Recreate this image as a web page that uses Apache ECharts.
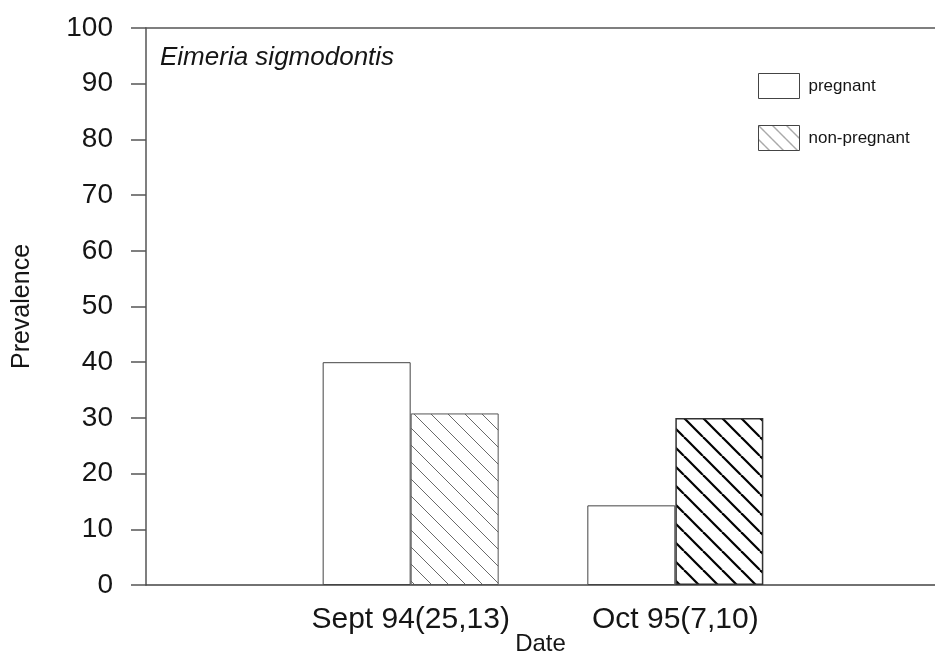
<!DOCTYPE html>
<html>
<head>
<meta charset="utf-8">
<script src="https://cdn.jsdelivr.net/npm/echarts@6/dist/echarts.min.js"></script>
<style>
html,body{margin:0;padding:0;background:#fff;}
#chart{width:935px;height:660px;}
</style>
</head>
<body>
<div id="chart"></div>
<script>
// ---- data ----
const categories = ['Sept 94(25,13)', 'Oct 95(7,10)'];
const pregnant = [40, 14.3];
const nonPregnant = [30.8, 30];
const yTicks = [0, 10, 20, 30, 40, 50, 60, 70, 80, 90, 100];
const seriesNames = ['pregnant', 'non-pregnant'];
const titleText = 'Eimeria sigmodontis';
const xName = 'Date';
const yName = 'Prevalence';

// ---- hatch patterns (style only) ----
function hatch(step, color, width) {
  const c = document.createElement('canvas');
  c.width = step; c.height = step;
  const g = c.getContext('2d');
  g.fillStyle = '#fff';
  g.fillRect(0, 0, step, step);
  g.strokeStyle = color;
  g.lineWidth = width;
  for (const x0 of [-step, 0, step]) {
    g.beginPath();
    g.moveTo(x0, 0);
    g.lineTo(x0 + step, step);
    g.stroke();
  }
  return { image: c, repeat: 'repeat' };
}
const lightHatch = hatch(17, '#6a6a6a', 1);
const heavyHatch = hatch(19, '#000', 2.2);
const legendHatch = hatch(14, '#555', 1);

const axisCats = [''].concat(categories, ['']);
const pad = arr => [null].concat(arr, [null]);

const nonPregData = pad(nonPregnant).map((v, i) => {
  if (v === null) return null;
  if (i === 1) return { value: v, itemStyle: { color: lightHatch, borderColor: '#555', borderWidth: 1 } };
  return { value: v, itemStyle: { color: heavyHatch, borderColor: '#333', borderWidth: 1.5 } };
});

const chart = echarts.init(document.getElementById('chart'), null, { renderer: 'canvas' });
const txt = '#151515';
chart.setOption({
  backgroundColor: '#fff',
  animation: false,
  title: {
    text: titleText,
    left: 160, top: 45, padding: 0,
    textStyle: { fontFamily: 'Liberation Sans', fontStyle: 'italic', fontWeight: 'normal', fontSize: 26, color: txt }
  },
  legend: {
    orient: 'vertical',
    left: 758, top: 73, padding: 0,
    itemWidth: 41, itemHeight: 25, itemGap: 26,
    icon: 'rect',
    data: seriesNames,
    textStyle: { fontFamily: 'Liberation Sans', fontSize: 17, color: txt, padding: [0, 0, 0, 4] },
    itemStyle: { borderColor: '#444', borderWidth: 1 }
  },
  grid: { left: 146, right: -5, top: 28, bottom: 75, containLabel: false, outerBoundsMode: 'none' },
  xAxis: [{
    type: 'category',
    data: axisCats,
    boundaryGap: false,
    position: 'bottom',
    axisLine: { show: true, lineStyle: { color: '#444', width: 1.5 } },
    axisTick: { show: false },
    axisLabel: { fontFamily: 'Liberation Sans', fontSize: 30, color: txt, margin: 20, interval: 0 },
    splitLine: { show: false },
    name: xName,
    nameLocation: 'middle',
    nameGap: 47,
    nameMoveOverlap: false,
    nameTextStyle: { fontFamily: 'Liberation Sans', fontSize: 24, color: txt, padding: [0, 5, 0, 0] }
  }, {
    type: 'category',
    data: axisCats,
    boundaryGap: false,
    position: 'top',
    axisLine: { show: true, onZero: false, lineStyle: { color: '#555', width: 1.5 } },
    axisTick: { show: false },
    axisLabel: { show: false },
    splitLine: { show: false }
  }],
  yAxis: {
    type: 'value',
    min: yTicks[0], max: yTicks[yTicks.length - 1], interval: yTicks[1] - yTicks[0],
    axisLine: { show: true, lineStyle: { color: '#555', width: 1.5 } },
    axisTick: { show: true, inside: false, length: 15, lineStyle: { color: '#555', width: 1.5 } },
    axisLabel: { fontFamily: 'Liberation Sans', fontSize: 28, color: txt, margin: 33 },
    splitLine: { show: false },
    name: yName,
    nameLocation: 'middle',
    nameRotate: 90,
    nameGap: 111,
    nameMoveOverlap: false,
    nameTextStyle: { fontFamily: 'Liberation Sans', fontSize: 25, color: txt }
  },
  series: [{
    name: seriesNames[0],
    type: 'bar',
    data: pad(pregnant),
    barWidth: 88,
    barGap: '0%',
    itemStyle: { color: '#fff', borderColor: '#444', borderWidth: 1 }
  }, {
    name: seriesNames[1],
    type: 'bar',
    data: nonPregData,
    barWidth: 88,
    barGap: '0%',
    itemStyle: { color: legendHatch, borderColor: '#444', borderWidth: 1 }
  }]
});
</script>
</body>
</html>
